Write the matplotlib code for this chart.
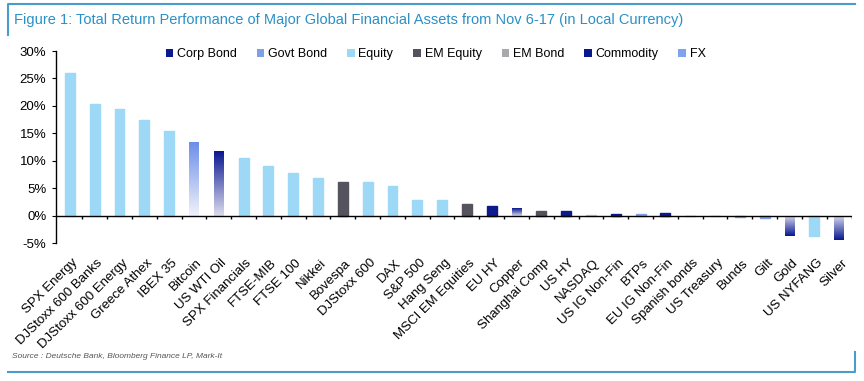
import matplotlib.pyplot as plt
import matplotlib.colors as mcolors
from matplotlib.patches import Patch
from matplotlib.lines import Line2D
import matplotlib.transforms as mtransforms
import numpy as np

plt.rcParams['font.family'] = ['Liberation Sans', 'DejaVu Sans']

# data (% total return, local currency)
assets = ['SPX Energy', 'DJStoxx 600 Banks', 'DJStoxx 600 Energy', 'Greece Athex',
          'IBEX 35', 'Bitcoin', 'US WTI Oil', 'SPX Financials', 'FTSE-MIB',
          'FTSE 100', 'Nikkei', 'Bovespa', 'DJStoxx 600', 'DAX', 'S&P 500',
          'Hang Seng', 'MSCI EM Equities', 'EU HY', 'Copper', 'Shanghai Comp',
          'US HY', 'NASDAQ', 'US IG Non-Fin', 'BTPs', 'EU IG Non-Fin',
          'Spanish bonds', 'US Treasury', 'Bunds', 'Gilt', 'Gold', 'US NYFANG',
          'Silver']
returns = [26.0, 20.3, 19.4, 17.4, 15.5, 13.5, 11.7, 10.5, 9.0, 7.8, 6.9, 6.2,
           6.2, 5.3, 2.8, 2.8, 2.1, 1.7, 1.4, 0.8, 0.8, 0.05, 0.3, 0.2, 0.55,
           0.0, 0.0, -0.2, -0.5, -3.8, -3.7, -4.5]
classes = ['Equity', 'Equity', 'Equity', 'Equity', 'Equity', 'FX', 'Commodity',
           'Equity', 'Equity', 'Equity', 'Equity', 'EM Equity', 'Equity', 'Equity',
           'Equity', 'Equity', 'EM Equity', 'Corp Bond', 'Commodity', 'EM Equity',
           'Corp Bond', 'Equity', 'Corp Bond', 'Govt Bond', 'Corp Bond',
           'Govt Bond', 'Govt Bond', 'Govt Bond', 'Govt Bond', 'Commodity',
           'Equity', 'Commodity']
legend_order = ['Corp Bond', 'Govt Bond', 'Equity', 'EM Equity', 'EM Bond',
                'Commodity', 'FX']

solid = {'Corp Bond': '#0c1a8c', 'Govt Bond': '#7f9fe6', 'Equity': '#9dd8f6',
         'EM Equity': '#55545e', 'EM Bond': '#a9a9ad'}
gradient = {'Commodity': ('#0a1890', '#dcdcee'), 'FX': ('#6a8ee8', '#f2f2fa')}

blue_line = '#4a9ccb'

fig = plt.figure(figsize=(8.64, 3.81), dpi=100)
ax = fig.add_axes([56 / 864, 1 - 243 / 381, (852 - 56) / 864, (243 - 51) / 381])

x = np.arange(len(assets))
width = 0.4
bars = ax.bar(x, returns, width=width, zorder=2)
for b, v, c in zip(bars, returns, classes):
    if c in solid:
        b.set_color(solid[c])
    else:
        far, near = gradient[c]
        cmap = mcolors.LinearSegmentedColormap.from_list('g', [near, far])
        grad = np.linspace(0, 1, 100).reshape(-1, 1)
        b.set_facecolor('none')
        x0 = b.get_x()
        top = max(v, 0)
        bot = min(v, 0)
        img = ax.imshow(grad, cmap=cmap, origin='lower' if v >= 0 else 'upper',
                        aspect='auto', extent=(x0, x0 + width, bot, top), zorder=2)
        img.set_clip_path(b)

ax.set_xlim(-0.56, len(assets) - 0.48)
ax.set_ylim(-5, 30)
ax.set_yticks(np.arange(-5, 31, 5))
ax.set_yticklabels(['%d%%' % t for t in range(-5, 31, 5)], fontsize=9.5)
ax.tick_params(axis='y', direction='out', length=3, width=0.8, pad=4)

# zero line with small ticks between categories
ax.axhline(0, color='black', lw=1.0, zorder=3)
ax.vlines(np.arange(len(assets)) + 0.5, -0.55, 0, color='black', lw=1.0, zorder=3)

ax.set_xticks(x)
ax.tick_params(axis='x', length=0, pad=10)
offset = mtransforms.ScaledTranslation(2 / 100, 0, fig.dpi_scale_trans)
ax.set_xticklabels(assets, rotation=45, ha='right', rotation_mode='anchor',
                   fontsize=9.5)
for lab in ax.get_xticklabels():
    lab.set_transform(lab.get_transform() + offset)

for s in ['top', 'right', 'bottom']:
    ax.spines[s].set_visible(False)
ax.spines['left'].set_linewidth(1.0)

handles = []
for c in legend_order:
    if c in solid:
        handles.append(Patch(facecolor=solid[c], edgecolor='none', label=c))
    else:
        handles.append(Patch(facecolor=gradient[c][0] if c == 'Commodity' else '#7fa3ee',
                             edgecolor='none', label=c))
ax.legend(handles=handles, loc='center', bbox_to_anchor=(0.477, 1 - 3 / 192),
          ncol=7, frameon=False, fontsize=9, handlelength=0.6, handleheight=0.6,
          handletextpad=0.3, columnspacing=1.6, borderaxespad=0)

# title and source
fig.text(14 / 864, 1 - 20 / 381,
         'Figure 1: Total Return Performance of Major Global Financial Assets from Nov 6-17 (in Local Currency)',
         fontsize=10.5, color='#2a90c6', va='center', ha='left')
fig.text(12 / 864, 1 - 357 / 381, 'Source : Deutsche Bank, Bloomberg Finance LP, Mark-It',
         fontsize=6, style='italic', color='#555555', va='center', ha='left')

# frame lines
def fline(xs, ys):
    fig.add_artist(Line2D([v / 864 for v in xs], [1 - v / 381 for v in ys],
                          color=blue_line, lw=1.5, transform=fig.transFigure))

fline([8, 8, 855], [35, 4, 4])
fline([8, 855, 855], [372, 372, 352])

fig.savefig('out.png', dpi=100)
